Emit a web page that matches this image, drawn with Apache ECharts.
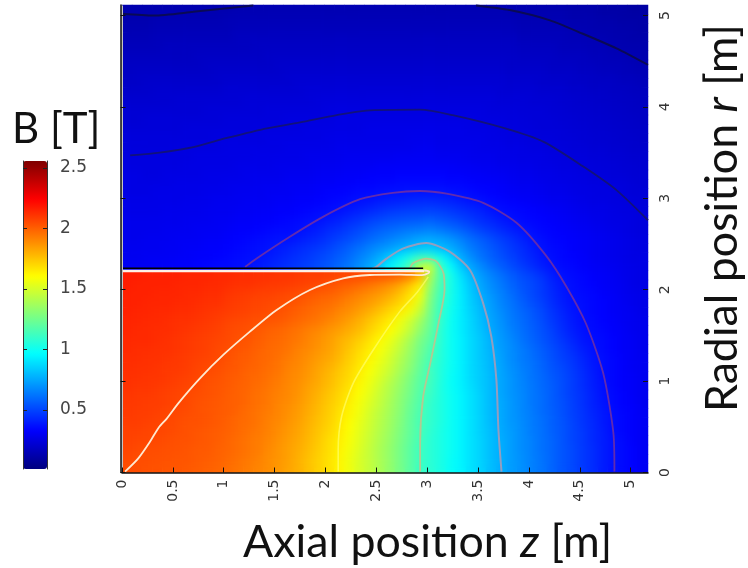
<!DOCTYPE html>
<html><head><meta charset="utf-8">
<style>html,body{margin:0;padding:0;background:#fff}#c{width:748px;height:568px}</style>
<script src="https://cdn.jsdelivr.net/npm/echarts@6/dist/echarts.min.js"></script>
</head><body><div id="c"></div>
<script>
// Field strength B in hundredths of a tesla. Rows go upward in r (0.1 m apart), columns rightward in z.
const r00=[205,205,204,204,203,203,202,201,200,199,197,195,193,191,189,186,183,180,176,172,168,163,157,151,146,140,134,127,120,112,108,104,99,95,90,86,81,77,73,70,66,63,59,55,52,48,45,41,38,36,34,31];
const r01=[206,205,205,204,204,203,203,202,201,200,198,196,194,192,189,187,184,180,176,172,168,163,157,151,146,140,134,127,120,113,108,104,99,95,90,86,81,77,73,70,66,63,59,55,52,48,45,41,38,36,34,31];
const r02=[207,206,205,205,204,204,203,202,202,200,199,197,195,193,190,187,184,181,177,173,169,164,158,152,146,140,134,127,120,113,108,104,100,95,90,86,81,77,73,69,66,62,59,55,52,48,45,41,38,36,34,31];
const r03=[208,207,207,206,205,204,204,203,202,201,199,197,195,193,191,188,185,182,178,174,169,165,159,153,147,141,135,128,121,114,108,104,100,95,90,86,81,77,73,69,66,62,59,55,51,48,44,41,38,36,33,31];
const r04=[208,208,207,207,206,205,204,203,202,201,200,198,196,194,192,189,186,183,179,175,171,166,160,154,148,142,136,129,122,115,109,104,100,95,90,85,81,76,73,69,65,62,58,55,51,48,44,41,37,35,33,31];
const r05=[209,209,208,207,207,205,204,204,203,202,200,198,197,195,192,190,187,184,180,176,172,167,161,155,149,143,137,130,122,115,110,105,100,95,90,85,80,76,72,69,65,62,58,55,51,47,44,40,37,35,33,31];
const r06=[210,209,209,208,207,206,205,204,203,202,201,199,197,195,193,191,188,185,181,177,173,168,163,157,150,144,138,131,123,116,110,105,100,95,90,85,80,76,72,68,65,61,58,54,50,47,43,40,37,35,33,31];
const r07=[210,210,209,209,208,207,206,204,203,202,201,200,198,196,194,191,189,186,182,178,174,170,164,158,152,146,139,132,124,117,110,105,100,95,90,85,80,76,72,68,64,61,57,54,50,46,42,39,36,34,33,30];
const r08=[211,210,210,209,208,207,206,205,204,203,201,200,198,196,194,192,190,187,183,179,175,171,166,160,154,147,141,133,126,118,112,105,100,95,90,85,80,75,71,68,64,61,57,53,49,46,42,38,36,34,32,30];
const r09=[212,211,211,210,209,208,207,206,204,203,202,200,199,197,195,193,190,188,184,181,177,173,168,162,156,149,142,135,127,119,113,105,99,94,89,84,80,75,71,67,64,60,57,53,49,45,41,38,35,33,32,30];
const r10=[212,212,211,211,210,209,208,207,205,204,202,201,199,198,196,194,191,189,186,182,178,174,170,164,158,152,145,137,129,120,114,106,99,94,88,84,80,75,71,67,63,60,56,53,49,45,41,37,35,33,32,30];
const r11=[213,212,212,211,210,210,209,207,206,205,203,202,200,199,197,195,192,190,187,183,180,176,171,166,160,154,148,140,132,122,113,106,100,94,88,84,79,75,70,66,63,59,55,52,48,44,40,37,35,33,31,30];
const r12=[213,213,212,212,211,210,209,208,207,206,204,202,201,199,198,196,193,191,188,185,182,178,173,168,163,157,150,142,134,124,115,107,100,94,88,83,79,74,69,65,62,58,54,50,47,43,39,37,35,33,31,30];
const r13=[214,213,213,212,212,211,210,209,208,206,205,203,202,200,198,197,195,192,190,187,184,180,175,170,165,159,153,145,136,126,117,107,100,94,88,83,78,73,69,65,61,57,53,49,45,41,38,36,34,32,31,29];
const r14=[214,214,214,213,212,211,210,209,208,207,206,204,203,201,199,198,196,194,191,188,185,181,177,173,168,162,156,148,139,128,120,108,100,94,88,83,78,72,68,63,59,55,51,47,43,39,37,36,34,32,31,29];
const r15=[215,214,214,213,213,212,211,210,209,208,206,205,204,202,200,199,197,195,192,190,187,184,181,177,172,167,161,154,145,133,122,108,100,93,87,82,76,71,66,62,58,54,50,45,41,38,36,35,33,32,30,29];
const r16=[215,215,214,214,213,212,212,211,210,209,207,206,205,204,203,202,200,198,196,194,191,188,184,180,175,170,165,157,148,137,124,110,100,93,87,81,75,70,65,61,57,53,48,44,40,37,36,34,33,31,30,29];
const r17=[216,215,215,214,214,213,213,212,211,210,209,208,207,206,205,204,202,200,198,196,194,191,188,184,180,175,170,165,157,145,126,111,101,93,86,80,74,69,64,60,56,52,47,43,39,37,35,34,32,31,30,28];
const r18=[216,216,215,215,215,214,214,213,212,212,210,209,208,207,206,205,204,202,200,198,197,194,191,188,185,181,176,171,165,152,128,112,102,93,85,79,73,67,63,58,54,50,45,41,38,37,35,34,32,31,29,28];
const r19=[216,216,216,215,215,215,214,214,213,213,211,210,209,208,208,207,206,205,203,201,200,198,195,192,189,186,182,176,168,158,130,114,103,93,84,77,71,66,61,56,52,48,44,40,37,36,35,33,32,30,29,28];
const r20=[217,216,216,216,216,215,215,215,214,214,213,212,212,211,210,210,209,208,207,206,204,202,200,198,195,192,188,183,175,165,135,115,103,92,83,75,69,64,59,55,52,48,43,39,37,35,34,32,31,30,28,27];
const r21=[217,217,216,216,216,216,215,215,215,214,214,213,213,212,212,211,211,210,209,209,208,207,207,206,205,204,203,200,194,180,140,117,103,90,80,73,67,62,57,53,50,46,41,38,36,35,33,32,31,29,28,27];
const r22=[31,31,31,32,32,33,33,34,35,36,36,37,38,40,42,44,46,48,50,53,56,60,64,70,76,84,94,105,118,145,150,113,97,84,75,68,62,57,53,49,45,41,38,36,35,33,32,31,30,29,28,27];
const r23=[30,30,31,31,31,32,32,33,33,34,35,36,37,38,40,42,44,46,48,51,54,57,61,66,71,77,85,93,103,112,111,100,88,77,69,63,58,54,50,46,43,39,37,35,34,33,31,30,29,28,27,27];
const r24=[30,30,30,30,31,31,32,32,33,33,34,35,36,37,38,40,42,44,46,48,51,54,58,62,66,70,73,77,80,83,84,81,77,71,65,60,56,52,48,45,41,38,36,35,33,32,31,30,29,28,27,26];
const r25=[29,29,30,30,30,31,31,31,32,32,33,34,35,36,37,38,38,40,42,44,47,50,53,56,60,63,66,69,72,75,76,74,71,66,61,57,53,49,46,42,39,37,35,34,33,32,31,30,29,28,27,26];
const r26=[29,29,29,29,30,30,30,31,31,31,32,33,33,34,35,36,36,37,39,41,44,46,49,52,55,58,60,62,64,65,66,64,61,58,54,50,47,44,41,39,37,35,34,33,32,31,30,29,28,27,26,25];
const r27=[29,29,29,29,29,29,30,30,30,31,31,32,32,33,33,34,35,36,37,38,40,42,45,47,50,52,54,55,56,57,58,56,54,51,48,45,43,40,38,36,35,34,33,32,31,30,29,28,27,27,26,25];
const r28=[28,28,28,28,29,29,29,29,30,30,30,31,31,32,32,33,33,34,35,36,37,38,40,42,44,46,48,49,50,50,51,50,48,46,44,42,39,37,36,35,34,33,32,31,30,29,28,28,27,26,26,25];
const r29=[28,28,28,28,28,28,29,29,29,30,30,30,31,31,31,32,32,33,33,34,35,36,37,38,39,41,42,43,44,45,45,44,43,41,39,38,36,35,34,33,32,31,30,30,29,28,27,27,26,26,25,24];
const r30=[27,27,27,28,28,28,28,28,29,29,29,30,30,30,31,31,31,32,32,33,34,34,35,36,36,37,38,38,39,39,39,39,38,37,36,35,34,33,32,31,31,30,29,29,28,27,27,26,26,25,24,24];
const r31=[27,27,27,27,27,28,28,28,28,28,29,29,29,30,30,30,31,31,31,32,32,33,33,34,34,35,35,36,36,36,36,36,35,35,34,33,33,32,31,30,30,29,28,28,27,27,26,26,25,25,24,23];
const r32=[27,27,26,26,27,27,27,27,28,28,28,28,29,29,29,29,30,30,30,31,31,31,32,32,33,33,33,34,34,34,34,34,33,33,32,32,31,31,30,29,29,28,28,27,27,26,25,25,24,24,23,23];
const r33=[26,26,26,26,26,26,27,27,27,27,27,28,28,28,28,29,29,29,29,30,30,30,31,31,31,32,32,32,32,32,32,32,32,31,31,30,30,29,29,28,28,27,27,26,26,25,25,24,24,23,23,22];
const r34=[26,26,26,26,26,26,26,27,27,27,27,27,27,28,28,28,28,28,29,29,29,29,30,30,30,30,30,31,31,31,31,30,30,30,29,29,29,28,28,27,27,27,26,26,25,25,24,24,23,23,22,22];
const r35=[25,25,25,25,25,26,26,26,26,26,27,27,27,27,27,27,28,28,28,28,28,29,29,29,29,29,29,29,29,30,30,29,29,29,29,28,28,28,27,27,26,26,25,25,24,24,23,23,22,22,21,21];
const r36=[25,25,25,25,25,25,25,25,25,26,26,26,26,26,27,27,27,27,27,27,28,28,28,28,28,28,28,28,29,29,29,28,28,28,28,28,27,27,26,26,25,25,25,24,24,23,23,22,22,21,21,20];
const r37=[24,24,24,24,24,24,25,25,25,25,25,25,25,26,26,26,26,26,27,27,27,27,27,27,28,28,28,28,28,28,28,28,28,28,27,27,27,26,26,25,25,24,24,24,23,23,22,22,21,21,20,20];
const r38=[23,23,24,24,24,24,24,24,24,24,25,25,25,25,25,25,26,26,26,26,26,27,27,27,27,27,27,27,27,27,27,27,27,27,27,26,26,26,25,25,24,24,24,23,23,22,22,21,21,20,20,19];
const r39=[23,23,23,23,23,23,23,23,24,24,24,24,24,24,25,25,25,25,25,25,26,26,26,26,26,26,26,26,26,26,26,26,26,26,26,26,25,25,25,24,24,24,23,23,22,22,21,21,20,20,19,19];
const r40=[22,22,22,22,22,23,23,23,23,23,23,23,24,24,24,24,24,24,24,25,25,25,25,25,25,25,25,25,25,25,25,25,25,25,25,25,25,24,24,24,23,23,23,22,22,21,21,20,20,19,19,18];
const r41=[21,21,21,22,22,22,22,22,22,22,23,23,23,23,23,23,23,23,24,24,24,24,24,24,24,24,24,24,24,24,24,24,24,24,24,24,24,23,23,23,23,22,22,22,21,21,20,20,19,19,18,18];
const r42=[20,20,21,21,21,21,21,21,21,21,22,22,22,22,22,22,22,23,23,23,23,23,23,23,23,23,23,23,23,23,23,23,23,23,23,23,23,23,22,22,22,21,21,21,20,20,19,19,19,18,18,17];
const r43=[19,20,20,20,20,20,20,20,20,21,21,21,21,21,21,21,22,22,22,22,22,22,22,22,22,22,22,22,22,22,22,22,22,22,22,22,22,22,21,21,21,21,20,20,20,19,19,18,18,17,17,16];
const r44=[19,19,19,19,19,19,19,19,20,20,20,20,20,20,20,21,21,21,21,21,21,21,21,21,21,21,21,21,21,21,21,21,21,21,21,21,21,21,20,20,20,20,19,19,19,18,18,17,17,17,16,15];
const r45=[18,18,18,18,18,18,18,19,19,19,19,19,19,19,20,20,20,20,20,20,20,20,20,20,20,20,20,20,20,20,20,20,20,20,20,20,20,20,20,19,19,19,19,18,18,18,17,17,16,16,15,14];
const r46=[17,17,17,17,18,18,18,18,18,18,18,18,18,19,19,19,19,19,19,19,19,19,19,19,19,19,19,19,19,19,19,19,19,19,19,19,19,19,19,18,18,18,18,17,17,17,16,16,15,14,14,14];
const r47=[16,16,16,17,17,17,17,17,17,17,17,18,18,18,18,18,18,18,18,18,18,18,18,18,18,18,18,18,18,18,18,18,18,18,18,18,18,18,18,17,17,17,17,17,16,16,15,15,14,14,13,13];
const r48=[15,15,15,16,16,16,16,16,16,16,16,17,17,17,17,17,17,17,17,17,17,17,17,17,17,17,17,17,17,17,17,17,17,17,17,17,17,17,17,16,16,16,16,16,15,15,14,14,14,13,13,12];
const r49=[14,14,14,15,15,15,15,15,15,15,16,16,16,16,16,16,16,16,16,16,16,16,16,16,16,16,16,16,16,16,16,16,16,16,16,16,16,16,16,15,15,15,15,15,14,14,14,13,13,12,12,12];
const r50=[14,14,14,14,14,14,14,14,14,14,14,15,15,15,15,15,15,15,15,15,15,15,15,15,15,15,15,15,15,15,15,15,15,15,15,15,15,15,14,14,14,14,14,14,13,13,13,12,12,12,11,11];
const fieldRows=[r00,r01,r02,r03,r04,r05,r06,r07,r08,r09,r10,r11,r12,r13,r14,r15,r16,r17,r18,r19,r20,r21,r22,r23,r24,r25,r26,r27,r28,r29,r30,r31,r32,r33,r34,r35,r36,r37,r38,r39,r40,r41,r42,r43,r44,r45,r46,r47,r48,r49,r50];

// Contour lines and coil edges, as [z, r] in metres.
const contourWhite=[[0.03,0.01],[0.16,0.155],[0.275,0.337],[0.36,0.49],[0.44,0.59],[0.553,0.757],[0.766,1.03],[0.995,1.286],[1.257,1.541],[1.52,1.778],[1.847,1.997],[2.174,2.125],[2.436,2.161],[2.73,2.165],[2.95,2.16],[3.01,2.18],[3.02,2.2],[2.97,2.21]];
const contourYellow=[[2.125,0.01],[2.125,0.246],[2.158,0.61],[2.272,0.976],[2.469,1.34],[2.73,1.76],[2.9,1.97],[3.01,2.14]];
const contourTan=[[2.93,0.01],[2.93,0.32],[2.96,0.83],[3.03,1.195],[3.11,1.63],[3.17,2.0],[3.16,2.18],[3.09,2.31],[2.99,2.34],[2.86,2.29],[2.83,2.23]];
const contourGrey=[[3.73,0.01],[3.70,0.465],[3.68,1.01],[3.63,1.486],[3.55,1.85],[3.42,2.215],[3.22,2.416],[2.99,2.51],[2.76,2.45],[2.6,2.34],[2.5,2.25],[2.46,2.23]];
const contourPurple=[[4.84,0.01],[4.83,0.43],[4.73,1.085],[4.56,1.63],[4.37,2.03],[4.17,2.37],[3.88,2.73],[3.55,2.95],[3.19,3.05],[2.93,3.08],[2.66,3.06],[2.34,2.99],[1.98,2.80],[1.65,2.58],[1.32,2.34],[1.21,2.25]];
const contourNavy=[[0.08,3.47],[0.37,3.5],[0.70,3.56],[1.03,3.66],[1.36,3.75],[1.75,3.83],[2.11,3.91],[2.40,3.96],[2.93,3.97],[3.25,3.91],[3.75,3.77],[4.14,3.62],[4.53,3.35],[4.86,3.09],[5.17,2.76]];
const contourTopLeft=[[0,5.02],[0.31,5.0],[0.70,5.04],[1.03,5.08],[1.29,5.11]];
const contourTopRight=[[3.48,5.11],[3.81,5.06],[4.2,4.95],[4.53,4.8],[4.86,4.64],[5.17,4.46]];
const coilWhite=[[0,2.205],[2.97,2.205]];
const coilBlack=[[0,2.234],[2.96,2.234]];
const wall=[[0,0],[0,5.11]];

const zTicks=[0,0.5,1,1.5,2,2.5,3,3.5,4,4.5,5];
const zTickLabels=['0','0.5','1','1.5','2','2.5','3','3.5','4','4.5','5'];
const rTicks=[0,1,2,3,4,5];
const barTicks=[0.5,1,1.5,2,2.5];
const jet=['#00007f','#0000ff','#007fff','#00ffff','#7fff7f','#ffff00','#ff7f00','#ff0000','#7f0000'];

const cells=[];
fieldRows.forEach((row,j)=>row.forEach((v,i)=>cells.push([i,j,v/100])));
// The coil is a real jump in the field: cells under it and cells above it are softened on separate layers.
const coilRow=22, tipColumn=30;
const underCoil=cells.filter(c=>c[1]<coilRow||c[0]>=tipColumn);
const overCoil=cells.filter(c=>c[1]>=coilRow||c[0]>=tipColumn);
const TOP=5;
const tickFont={fontFamily:'DejaVu Sans',color:'#333'};

function heat(data,zlevel){
  return {type:'heatmap',xAxisIndex:0,yAxisIndex:0,data,progressive:0,silent:true,zlevel,emphasis:{disabled:true}};
}
function contour(data,color,width,opacity){
  return {type:'line',xAxisIndex:1,yAxisIndex:1,data,showSymbol:false,smooth:0.25,silent:true,z:3,zlevel:TOP,
    lineStyle:{color,width,opacity:opacity==null?1:opacity},clip:true};
}
function straight(data,color,width){
  return {type:'line',xAxisIndex:1,yAxisIndex:1,data,showSymbol:false,silent:true,z:4,zlevel:TOP,clip:false,
    lineStyle:{color,width}};
}
const option={
  animation:false,backgroundColor:'#fff',
  visualMap:{type:'continuous',show:true,seriesIndex:[0,1,2],min:0.02,max:2.56,calculable:false,hoverLink:false,zlevel:TOP,
    left:23,top:161,padding:0,itemWidth:24,itemHeight:308,text:null,showLabel:false,
    inRange:{color:jet},textStyle:{fontSize:0,color:'transparent'},formatter:()=>''},
  grid:[{left:122,top:5,width:526,height:467.5,containLabel:false},
        {left:23,top:161,width:24,height:308,containLabel:false}],
  xAxis:[
    {type:'category',gridIndex:0,show:false,data:r00.map((_,i)=>i),boundaryGap:true},
    {type:'value',gridIndex:0,min:0,max:5.17,position:'bottom',z:6,zlevel:TOP,splitLine:{show:false},
      axisLine:{show:true,onZero:false,lineStyle:{color:'#111',width:1.5}},
      axisTick:{show:true,inside:true,length:5,customValues:zTicks,lineStyle:{color:'#111'}},
      axisLabel:{rotate:90,margin:7,fontSize:14,customValues:zTicks,...tickFont,
        formatter:v=>zTickLabels[zTicks.indexOf(v)]}},
    {type:'value',gridIndex:1,min:0,max:1,show:false}
  ],
  yAxis:[
    {type:'category',gridIndex:0,show:false,data:fieldRows.map((_,j)=>j),boundaryGap:true},
    {type:'value',gridIndex:0,min:0,max:5.115,position:'left',offset:1.5,z:6,zlevel:TOP,splitLine:{show:false},
      axisLine:{show:true,onZero:false,lineStyle:{color:'#111',width:1.5}},
      axisTick:{show:true,inside:true,length:5,customValues:rTicks,lineStyle:{color:'#111'}},
      axisLabel:{show:false}},
    {type:'value',gridIndex:0,min:0,max:5.115,position:'right',z:6,zlevel:TOP,splitLine:{show:false},
      axisLine:{show:false,onZero:false},
      axisTick:{show:true,inside:true,length:5,customValues:rTicks,lineStyle:{color:'#111'}},
      axisLabel:{rotate:90,margin:10,fontSize:14,customValues:rTicks,...tickFont}},
    {type:'value',gridIndex:1,min:0.012,max:2.558,position:'left',z:6,zlevel:TOP,splitLine:{show:false},
      axisLine:{show:true,onZero:false,lineStyle:{color:'#333',width:1}},
      axisTick:{show:true,inside:true,length:4,customValues:barTicks,lineStyle:{color:'#222'}},
      axisLabel:{show:false}},
    {type:'value',gridIndex:1,min:0.012,max:2.558,position:'right',z:6,zlevel:TOP,splitLine:{show:false},
      axisLine:{show:true,onZero:false,lineStyle:{color:'#333',width:1}},
      axisTick:{show:true,inside:true,length:4,customValues:barTicks,lineStyle:{color:'#222'}},
      axisLabel:{margin:13,fontSize:17,customValues:barTicks,fontFamily:'DejaVu Sans',color:'#444'}}
  ],
  series:[
    heat(cells,0),
    heat(underCoil,1),
    heat(overCoil,2),
    contour(contourWhite,'#ffe9d0',1.8),
    contour(contourYellow,'#ffff70',1.6,0.65),
    contour(contourTan,'#d0bc88',1.8,0.8),
    contour(contourGrey,'#9c9cbc',2,0.95),
    contour(contourPurple,'#7430a0',1.8,0.85),
    contour(contourNavy,'#12127a',1.8),
    contour(contourTopLeft,'#0a0a55',2),
    contour(contourTopRight,'#0a0a55',2),
    straight(coilWhite,'#fff0e4',2.4),
    straight(coilBlack,'#000',1.6),
    straight(wall,'#c4c4c4',2)
  ],
  graphic:[
    {type:'text',x:12,y:108,z:10,zlevel:TOP,style:{text:'B [T]',font:'42px Lato',fill:'#111'}},
    {type:'text',x:243,y:520,z:10,zlevel:TOP,style:{text:'Axial position {i|z} [m]',font:'44.7px Lato',fill:'#111',
      rich:{i:{font:'italic 44.7px Lato',fill:'#111'}}}},
    {type:'text',x:700,y:412,rotation:Math.PI/2,z:10,zlevel:TOP,style:{text:'Radial position {i|r} [m]',font:'44.7px Lato',fill:'#111',
      rich:{i:{font:'italic 44.7px Lato',fill:'#111'}}}}
  ]
};
const chart=echarts.init(document.getElementById('c'),null,{renderer:'canvas'});
chart.setOption(option);
const painter=chart.getZr().painter;
const under=painter.getLayer(1).dom, over=painter.getLayer(2).dom;
under.style.filter='blur(4px)';
under.style.clipPath='inset(270.8px 100px 95.5px 122px)';
over.style.filter='blur(4px)';
over.style.clipPath='inset(5px 100px 297.2px 122px)';
</script></body></html>
